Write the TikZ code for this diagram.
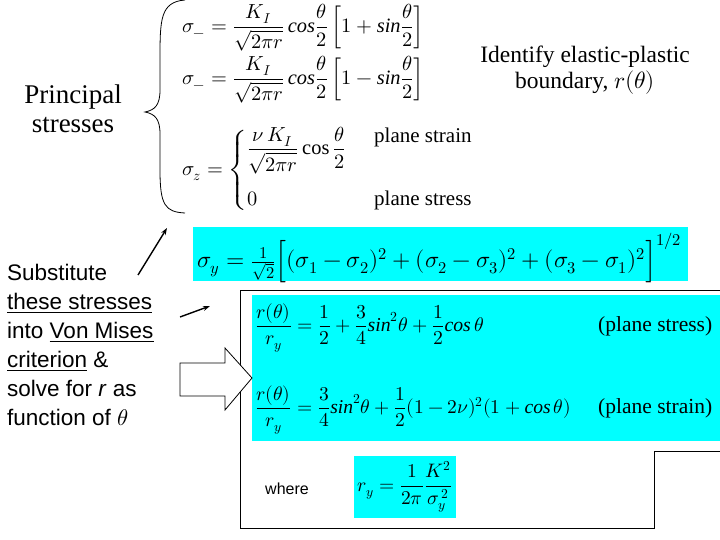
\documentclass[tikz,border=0pt]{standalone}
\usepackage{amsmath}
\usepackage{unicode-math}
\setmainfont{Liberation Serif}
\setmathfont{Latin Modern Math}
\newfontfamily\arialf{Liberation Sans}
\usetikzlibrary{arrows.meta}
\definecolor{cy}{RGB}{0,255,255}
\tikzset{cybox/.style={fill=cy,draw=none},
 lab/.style={inner sep=0pt,anchor=west},
 mth/.style={lab,transform shape,scale=#1},
 thinarrow/.style={-{Stealth[length=7pt,width=5pt]},line width=1.4pt}}
\begin{document}
\begin{tikzpicture}[x=1pt,y=-1pt]
\useasboundingbox (0,0) rectangle (720,540);
% brace
\draw[line width=0.8pt] (185,0) .. controls (160,2) and (160,20) .. (160,60)
 -- (160,90) .. controls (160,105) and (155,110) .. (145,112)
 .. controls (155,114) and (160,119) .. (160,134) -- (160,170)
 .. controls (160,205) and (165,212) .. (185,213);
\node[lab,font=\fontsize{27}{31}\selectfont,anchor=center] (ps) at (73,112) {\begin{tabular}{c}Principal\\[-2pt]stresses\end{tabular}};
% equations
\node[mth=1.2,font=\fontsize{17}{19}\selectfont] (e1) at (182,28) {$\sigma_{-}=\dfrac{K_I}{\sqrt{2\pi r}}\,\mathit{cos}\dfrac{\theta}{2}\left[1+\mathit{sin}\dfrac{\theta}{2}\right]$};
\node[mth=1.2,font=\fontsize{17}{19}\selectfont] (e2) at (182,80) {$\sigma_{-}=\dfrac{K_I}{\sqrt{2\pi r}}\,\mathit{cos}\dfrac{\theta}{2}\left[1-\mathit{sin}\dfrac{\theta}{2}\right]$};
\node[mth=1.2,font=\fontsize{17}{19}\selectfont] (e3) at (182,170) {$\sigma_{z}=\begin{cases}\dfrac{\nu\,K_I}{\sqrt{2\pi r}}\cos\dfrac{\theta}{2} & \\[19pt] 0 & \end{cases}$};
\node[lab,font=\fontsize{21}{23}\selectfont] (ps1) at (374,137) {plane strain};
\node[lab,font=\fontsize{21}{23}\selectfont] (ps2) at (374,200) {plane stress};
\node[font=\fontsize{23.5}{26}\selectfont,align=center] (id) at (585,70) {Identify elastic-plastic\\boundary, $r(\theta)$};
% von mises
\fill[cybox] (193,227) rectangle (688,281);
\node[mth=1.12,font=\fontsize{21}{23}\selectfont] (vm) at (197,258) {$\sigma_y=\tfrac{1}{\sqrt2}\Big[(\sigma_1-\sigma_2)^2+(\sigma_2-\sigma_3)^2+(\sigma_3-\sigma_1)^2\Big]^{1/2}$};
% frame
\draw[line width=0.9pt] (240,528) -- (240,290) -- (720,290);
\draw[line width=0.9pt] (720,451) -- (654,451) -- (654,528) -- (240,528);
\fill[cybox] (252,295) rectangle (720,441);
\node[mth=1.16,font=\fontsize{17}{19}\selectfont] (r1) at (255,328) {$\dfrac{r(\theta)}{r_y}=\dfrac12+\dfrac34\mathit{sin}^2\theta+\dfrac12\mathit{cos}\,\theta$};
\node[mth=1.15,font=\fontsize{17}{19}\selectfont] (r2) at (255,410) {$\dfrac{r(\theta)}{r_y}=\dfrac34\mathit{sin}^2\theta+\dfrac12(1-2\nu)^2(1+\mathit{cos}\,\theta)$};
\node[lab,font=\fontsize{21.5}{23}\selectfont] (l1) at (598,326) {(plane stress)};
\node[lab,font=\fontsize{21.5}{23}\selectfont] (l2) at (598,408) {(plane strain)};
\node[lab,font=\arialf\fontsize{16}{18}\selectfont] (wh) at (265,489) {where};
\fill[cybox] (354,456) rectangle (456,518);
\node[mth=1.22,font=\fontsize{16}{18}\selectfont] (ry) at (357,487) {$r_y=\dfrac{1}{2\pi}\dfrac{K^2}{\sigma_y^{\,2}}$};
% left text
\node[lab,font=\arialf\fontsize{22.5}{29}\selectfont,align=left,anchor=north west] (sub) at (7,264) {Substitute\\\underline{these stresses}\\into \underline{Von Mises}\\\underline{criterion} \&\\solve for \textit{r} as\\function of $\theta$};
\coordinate (a1s) at (138,275); \coordinate (a1e) at (167,228);
\coordinate (a2s) at (180,317); \coordinate (a2e) at (210,306);
\draw[thinarrow] (a1s) -- (a1e);
\draw[thinarrow] (a2s) -- (a2e);
\draw[line width=0.8pt,fill=white] (180,363) -- (225,363) -- (225,348) -- (252,378) -- (225,410) -- (225,396) -- (180,396) -- cycle;
\end{tikzpicture}
\end{document}
